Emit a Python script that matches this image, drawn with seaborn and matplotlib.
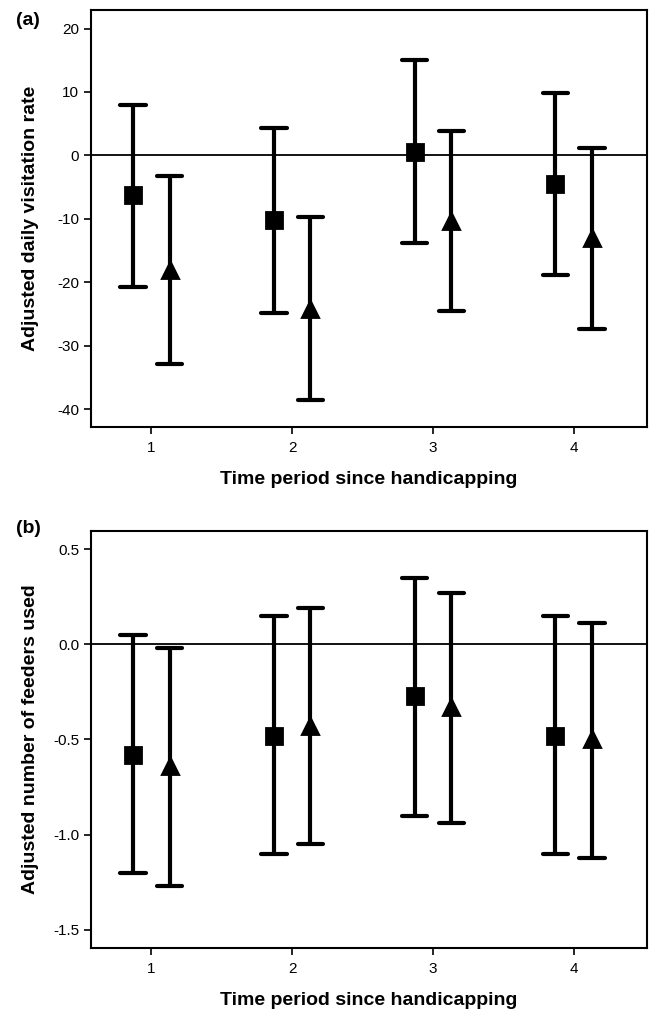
import numpy as np
import pandas as pd
import matplotlib
matplotlib.use("Agg")
import matplotlib.pyplot as plt
import seaborn as sns

# values: point estimate with lower/upper interval ends
periods = ["1", "2", "3", "4"]
groups = ["Control", "Handicapped"]

visit_ctrl_mean = [-6.3, -10.2, 0.6, -4.5]
visit_ctrl_lo = [-20.7, -24.8, -13.8, -18.9]
visit_ctrl_hi = [8.0, 4.3, 15.0, 9.8]
visit_hand_mean = [-18.1, -24.2, -10.4, -13.1]
visit_hand_lo = [-32.9, -38.6, -24.6, -27.4]
visit_hand_hi = [-3.3, -9.7, 3.8, 1.2]

feed_ctrl_mean = [-0.58, -0.48, -0.27, -0.48]
feed_ctrl_lo = [-1.20, -1.10, -0.90, -1.10]
feed_ctrl_hi = [0.05, 0.15, 0.35, 0.15]
feed_hand_mean = [-0.64, -0.43, -0.33, -0.50]
feed_hand_lo = [-1.27, -1.05, -0.94, -1.12]
feed_hand_hi = [-0.02, 0.19, 0.27, 0.11]


def long_table(ctrl, hand):
    # each cell gets lo/mean/hi rows; median = estimate, 100% interval = lo..hi
    rows = []
    for grp, (m, lo, hi) in zip(groups, [ctrl, hand]):
        for i, p in enumerate(periods):
            for v in (lo[i], m[i], hi[i]):
                rows.append({"period": p, "group": grp, "value": v})
    return pd.DataFrame(rows)


df_visit = long_table((visit_ctrl_mean, visit_ctrl_lo, visit_ctrl_hi),
                      (visit_hand_mean, visit_hand_lo, visit_hand_hi))
df_feed = long_table((feed_ctrl_mean, feed_ctrl_lo, feed_ctrl_hi),
                     (feed_hand_mean, feed_hand_lo, feed_hand_hi))

sns.set_style("ticks")
plt.rcParams["font.family"] = ["Liberation Sans", "DejaVu Sans"]
plt.rcParams["axes.unicode_minus"] = False
plt.rcParams["text.color"] = "black"
plt.rcParams["axes.labelcolor"] = "black"
plt.rcParams["xtick.color"] = "black"
plt.rcParams["ytick.color"] = "black"

fig = plt.figure(figsize=(6.54, 10.14), dpi=100)
ax_a = fig.add_axes([0.139, 0.579, 0.850, 0.411])
ax_b = fig.add_axes([0.139, 0.0654, 0.850, 0.4112])


def draw(ax, df, ylim, yticks, ylabel):
    sns.pointplot(data=df, x="period", y="value", hue="group", order=periods,
                  hue_order=groups, estimator="median", errorbar=("pi", 100),
                  palette=["black", "black"], markers=["s", "^"], linestyles="none",
                  dodge=0.26, capsize=0.18, err_kws={"linewidth": 3.0},
                  markersize=11, legend=False, ax=ax)
    ax.axhline(0, color="black", lw=1.3, zorder=0)
    ax.set_xlim(-0.43, 3.52)
    ax.set_ylim(*ylim)
    ax.set_yticks(yticks)
    ax.set_xlabel("Time period since handicapping", fontsize=14, fontweight="bold", labelpad=12)
    ax.set_ylabel(ylabel, fontsize=14, fontweight="bold")
    ax.yaxis.set_label_coords(-0.094, 0.5)
    ax.tick_params(labelsize=11, length=5, width=1.2, color="black", labelcolor="black")
    ax.tick_params(axis="x", pad=5)
    for s in ax.spines.values():
        s.set_linewidth(1.5)
        s.set_color("black")


draw(ax_a, df_visit, (-42.8, 22.9), [-40, -30, -20, -10, 0, 10, 20],
     "Adjusted daily visitation rate")
draw(ax_b, df_feed, (-1.593, 0.596), [-1.5, -1.0, -0.5, 0.0, 0.5],
     "Adjusted number of feeders used")
ax_b.set_yticklabels(["-1.5", "-1.0", "-0.5", "0.0", "0.5"])

fig.text(0.025, 0.980, "(a)", fontsize=14, fontweight="bold", va="center")
fig.text(0.025, 0.479, "(b)", fontsize=14, fontweight="bold", va="center")

fig.savefig("out.png", dpi=100)
